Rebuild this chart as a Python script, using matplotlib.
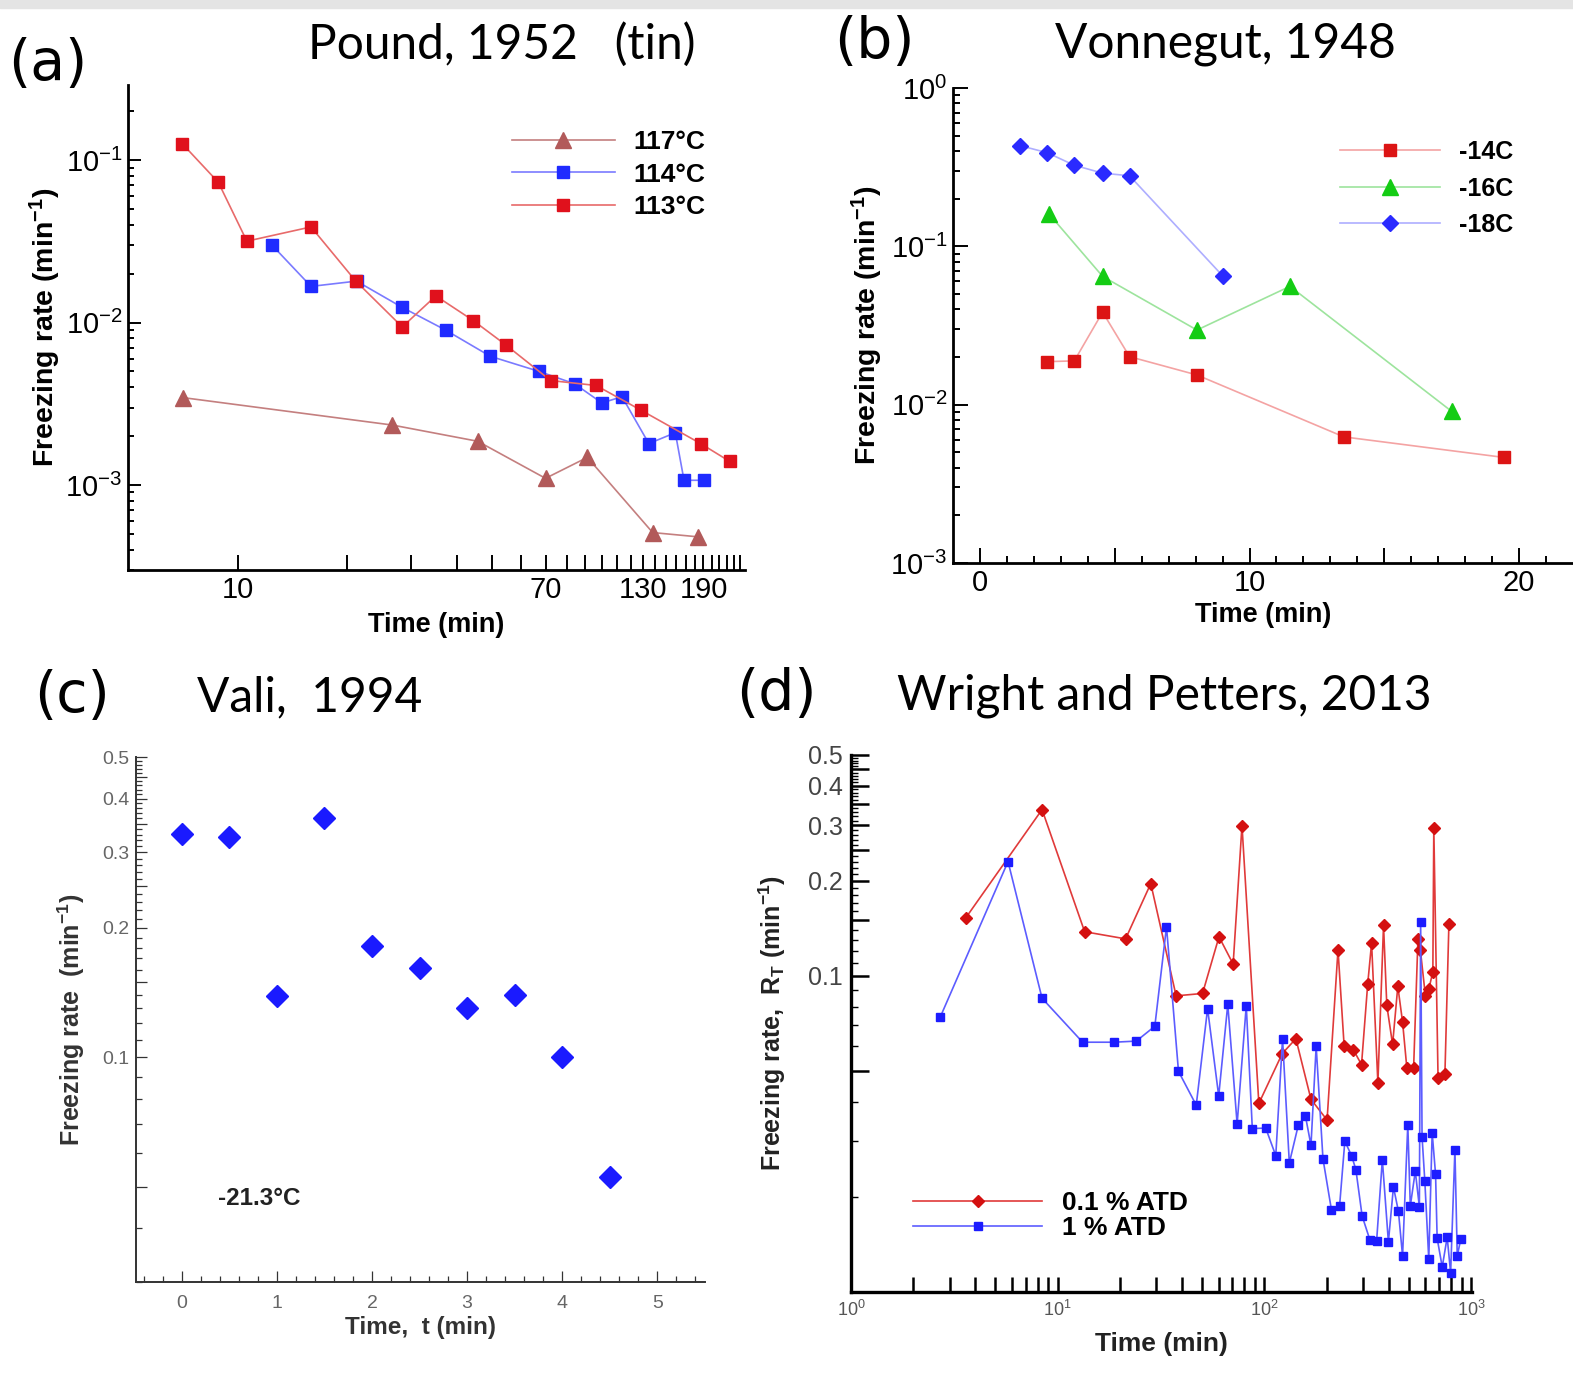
import numpy as np
import matplotlib
matplotlib.use("Agg")
import matplotlib.pyplot as plt
from matplotlib.ticker import FixedLocator, NullFormatter, NullLocator

# ---- (a) Pound 1952, tin ----
a_t113 = [7.05, 8.85, 10.6, 15.9, 21.1, 28.3, 35.0, 44.3, 54.4, 72.3, 96.4, 127.6, 186.6, 224]
a_r113 = [0.126, 0.073, 0.0317, 0.0388, 0.018, 0.0094, 0.0146, 0.0103, 0.0073, 0.0044, 0.0041, 0.0029, 0.0018, 0.0014]
a_t114 = [12.4, 15.9, 21.2, 28.3, 37.2, 49.4, 67.3, 84.1, 100, 113.5, 134.5, 159, 168, 190.5]
a_r114 = [0.0301, 0.0167, 0.018, 0.0124, 0.0090, 0.0062, 0.0050, 0.0042, 0.0032, 0.0035, 0.0018, 0.0021, 0.00107, 0.00107]
a_t117 = [7.1, 26.6, 45.6, 70, 91.2, 137.8, 183.6]
a_r117 = [0.00345, 0.00234, 0.00186, 0.0011, 0.00148, 0.00051, 0.00048]
a_xlabels = [10, 70, 130, 190]

# ---- (b) Vonnegut 1948 ----
b_t14 = [2.5, 3.5, 4.55, 5.55, 8.05, 13.5, 19.45]
b_r14 = [0.0187, 0.0189, 0.0384, 0.0201, 0.0154, 0.00626, 0.00464]
b_t16 = [2.55, 4.55, 8.05, 11.5, 17.5]
b_r16 = [0.161, 0.0646, 0.0296, 0.0559, 0.00907]
b_t18 = [1.5, 2.5, 3.5, 4.55, 5.55, 9.0]
b_r18 = [0.432, 0.39, 0.325, 0.290, 0.279, 0.0652]

# ---- (c) Vali 1994 ----
c_t = [0, 0.5, 1, 1.5, 2, 2.5, 3, 3.5, 4, 4.5]
c_r = [0.331, 0.326, 0.139, 0.360, 0.182, 0.161, 0.130, 0.140, 0.100, 0.0527]

# ---- (d) Wright and Petters 2013 ----
d_t01 = [3.6, 8.4, 13.5, 21.3, 28.2, 37.4, 50.2, 60.3, 70.6, 77.9, 94, 122, 142, 168, 201,
         227, 243, 269, 295, 316, 330, 354, 377, 391, 417, 442, 466, 489, 527, 553, 568,
         601, 624, 653, 660, 692, 747, 781]
d_r01 = [0.153, 0.336, 0.138, 0.131, 0.196, 0.0865, 0.088, 0.133, 0.109, 0.299, 0.0395, 0.0568,
         0.0633, 0.0407, 0.035, 0.121, 0.0602, 0.0585, 0.0524, 0.0942, 0.127, 0.0459, 0.1445,
         0.0807, 0.0607, 0.0927, 0.0715, 0.051, 0.051, 0.1305, 0.121, 0.0865, 0.0908, 0.103,
         0.294, 0.0474, 0.049, 0.1465]
d_t1 = [2.7, 5.75, 8.4, 13.2, 18.7, 24, 29.5, 33.6, 38.4, 46.8, 53.1, 60.1, 66.5, 73.8, 81.7,
        87.4, 101.5, 113.5, 122.4, 132, 146, 158, 168, 178, 192, 211, 231, 245, 264, 277, 297,
        324, 349, 372, 398, 421, 445, 466, 494, 508, 537, 562, 570, 579, 597, 624, 648, 673,
        685, 725, 766, 796, 835, 857, 891]
d_r1 = [0.074, 0.230, 0.085, 0.0617, 0.0617, 0.0622, 0.0693, 0.143, 0.0499, 0.039, 0.0788,
        0.0417, 0.0813, 0.034, 0.0805, 0.0329, 0.033, 0.027, 0.0632, 0.0256, 0.0338, 0.036,
        0.0291, 0.0599, 0.0264, 0.0182, 0.0187, 0.030, 0.027, 0.0244, 0.0174, 0.0146, 0.0145,
        0.0262, 0.0144, 0.0215, 0.018, 0.013, 0.0338, 0.0187, 0.0241, 0.0186, 0.148, 0.031,
        0.0225, 0.0127, 0.0319, 0.0236, 0.0148, 0.012, 0.0149, 0.0115, 0.0282, 0.013, 0.0147]

W, H = 1573, 1383
SANS = ["Liberation Sans", "DejaVu Sans"]
TITLE = ["Lato", "DejaVu Sans"]
plt.rcParams["mathtext.default"] = "regular"
plt.rcParams["axes.unicode_minus"] = False
plt.rcParams["font.family"] = SANS

fig = plt.figure(figsize=(W / 100, H / 100), dpi=100)
fig.patches.append(plt.Rectangle((0, 1 - 8 / H), 1, 8 / H, transform=fig.transFigure,
                                 color="#e4e4e4", zorder=0))


def px_axes(left, top, right, bottom):
    ax = fig.add_axes([left / W, 1 - bottom / H, (right - left) / W, (bottom - top) / H])
    ax.spines["top"].set_visible(False)
    ax.spines["right"].set_visible(False)
    ax.patch.set_alpha(0)
    return ax


def fig_text(x, y, s, size, family=TITLE, **kw):
    fig.text(x / W, 1 - y / H, s, fontsize=size, family=family, va="center", **kw)


# ---------------- panel (a) ----------------
ax = px_axes(128, 85, 745, 570)
ax.set_xscale("log")
ax.set_yscale("log")
ax.plot(a_t117, a_r117, "-^", color="#c47f7f", mfc="#b25a5a", mec="#b25a5a", ms=11, lw=1.2, label="117°C")
ax.plot(a_t114, a_r114, "-s", color="#7a7aff", mfc="#1f2bff", mec="#1f2bff", ms=9, lw=1.2, label="114°C")
ax.plot(a_t113, a_r113, "-s", color="#e86a6a", mfc="#e0111c", mec="#e0111c", ms=9, lw=1.2, label="113°C")
ax.set_xlim(5, 247)
ax.set_ylim(3e-4, 0.29)
a_ticks = np.arange(10, 241, 10)
ax.xaxis.set_minor_locator(NullLocator())
ax.set_xticks(a_ticks)
ax.set_xticklabels([str(v) if v in a_xlabels else "" for v in a_ticks])
ax.set_yticks([1e-3, 1e-2, 1e-1])
ax.set_yticklabels([r"$10^{-3}$", r"$10^{-2}$", r"$10^{-1}$"])
ax.tick_params(which="both", direction="in", width=1.4)
ax.tick_params(axis="x", which="major", length=11, labelsize=21, pad=4)
ax.tick_params(axis="y", which="major", length=9, labelsize=21, pad=4)
ax.tick_params(axis="y", which="minor", length=4)
for s in ("left", "bottom"):
    ax.spines[s].set_linewidth(2)
ax.set_xlabel("Time (min)", fontsize=19.5, fontweight="bold", labelpad=6)
ax.set_ylabel("Freezing rate (min$^{-1}$)", fontsize=20.5, fontweight="bold", labelpad=2)
h, l = ax.get_legend_handles_labels()
ax.legend(h, l, loc="upper left", bbox_to_anchor=(512 / W, 1 - 130 / H), bbox_transform=fig.transFigure,
          frameon=False, prop={"weight": "bold", "size": 19},
          handlelength=3.9, handletextpad=0.7, labelspacing=0.33, borderpad=0, borderaxespad=0)

# ---------------- panel (b) ----------------
ax = px_axes(953, 88, 1573, 563)
ax.set_yscale("log")
ax.plot(b_t14, b_r14, "-s", color="#f4a3a3", mfc="#dc1414", mec="#dc1414", ms=9, lw=1.2, label="-14C")
ax.plot(b_t16, b_r16, "-^", color="#9de49d", mfc="#14cc14", mec="#14cc14", ms=11, lw=1.2, label="-16C")
ax.plot(b_t18, b_r18, "-D", color="#aeaeff", mfc="#2a2aff", mec="#2a2aff", ms=8, lw=1.2, label="-18C")
ax.set_xlim(-1.0, 22.0)
ax.set_ylim(1e-3, 1)
ax.set_xticks([0, 5, 10, 15, 20])
ax.set_xticklabels(["0", "", "10", "", "20"])
ax.xaxis.set_minor_locator(FixedLocator(np.arange(0, 22, 1)))
ax.set_yticks([1e-3, 1e-2, 1e-1, 1])
ax.set_yticklabels([r"$10^{-3}$", r"$10^{-2}$", r"$10^{-1}$", r"$10^{0}$"])
ax.yaxis.set_minor_formatter(NullFormatter())
ax.tick_params(which="both", direction="in", width=1.4)
ax.tick_params(which="major", length=11, labelsize=21, pad=4)
ax.tick_params(which="minor", length=5)
for s in ("left", "bottom"):
    ax.spines[s].set_linewidth(2)
ax.set_xlabel("Time (min)", fontsize=19.5, fontweight="bold", labelpad=4)
ax.set_ylabel("Freezing rate (min$^{-1}$)", fontsize=20.5, fontweight="bold", labelpad=4)
h, l = ax.get_legend_handles_labels()
ax.legend(h, l, loc="upper left", bbox_to_anchor=(1340 / W, 1 - 140 / H), bbox_transform=fig.transFigure,
          frameon=False, prop={"weight": "bold", "size": 18},
          handlelength=4.0, handletextpad=0.75, labelspacing=0.5, borderpad=0, borderaxespad=0)

# ---------------- panel (c) ----------------
ax = px_axes(136, 757, 705, 1282)
ax.set_yscale("log")
ax.plot(c_t, c_r, "D", color="#1a1aff", ms=11, ls="none")
ax.set_xlim(-0.48, 5.5)
ax.set_ylim(0.03, 0.5)
ax.set_xticks(np.arange(0, 6))
ax.xaxis.set_minor_locator(FixedLocator(np.arange(-0.4, 5.5, 0.2)))
c_major = np.round(np.arange(0.05, 0.51, 0.05), 2)
ax.set_yticks(c_major)
ax.set_yticklabels([("%.1f" % v) if v in (0.1, 0.2, 0.3, 0.4, 0.5) else "" for v in c_major])
ax.yaxis.set_minor_locator(FixedLocator(np.round(np.arange(0.03, 0.5, 0.01), 2)))
ax.yaxis.set_minor_formatter(NullFormatter())
ax.tick_params(which="both", direction="in", width=0.9, colors="#333333", labelcolor="#666666")
ax.tick_params(which="major", length=8, labelsize=14, pad=5)
ax.tick_params(axis="x", which="major", pad=9)
ax.tick_params(which="minor", length=4)
for s in ("left", "bottom"):
    ax.spines[s].set_linewidth(1.4)
    ax.spines[s].set_color("#333333")
ax.set_xlabel("Time,  t (min)", fontsize=17.5, fontweight="bold", color="#333333", labelpad=3)
ax.set_ylabel("Freezing rate  (min$^{-1}$)", fontsize=18, fontweight="bold",
              color="#333333", labelpad=11)
ax.text(0.38, 0.047, "-21.3°C", fontsize=17.5, fontweight="bold", color="#222222", va="center")

# ---------------- panel (d) ----------------
ax = px_axes(851, 755, 1472, 1292)
ax.set_xscale("log")
ax.set_yscale("log")
ax.plot(d_t01, d_r01, "-D", color="#e03a3a", mfc="#d41010", mec="#d41010", ms=6, lw=1.2, label="0.1 % ATD")
ax.plot(d_t1, d_r1, "-s", color="#5c5cff", mfc="#1c1cff", mec="#1c1cff", ms=6, lw=1.2, label="1 % ATD")
ax.set_xlim(1, 1010)
ax.set_ylim(0.01, 0.5)
ax.set_xticks([1, 10, 100, 1000])
ax.set_xticklabels([r"$10^{0}$", r"$10^{1}$", r"$10^{2}$", r"$10^{3}$"])
d_minor_x = [m * 10 ** e for e in range(3) for m in range(2, 10)]
ax.xaxis.set_minor_locator(FixedLocator(d_minor_x))
ax.xaxis.set_minor_formatter(NullFormatter())
d_major = np.round(np.arange(0.05, 0.51, 0.05), 2)
ax.set_yticks(d_major)
ax.set_yticklabels([("%.1f" % v) if v in (0.1, 0.2, 0.3, 0.4, 0.5) else "" for v in d_major])
d_minor_y = [0.02, 0.03, 0.04, 0.06, 0.07, 0.08, 0.09] + list(np.round(np.arange(0.11, 0.5, 0.01), 2))
ax.yaxis.set_minor_locator(FixedLocator(d_minor_y))
ax.yaxis.set_minor_formatter(NullFormatter())
ax.tick_params(which="both", direction="in", width=1.8)
ax.tick_params(axis="x", which="both", length=11, labelsize=13, labelcolor="#555555", pad=6)
ax.tick_params(axis="y", which="major", length=13, labelsize=18, labelcolor="#444444", pad=6)
ax.tick_params(axis="y", which="minor", length=5, width=1.0)
for s in ("left", "bottom"):
    ax.spines[s].set_linewidth(2.4)
ax.set_xlabel("Time (min)", fontsize=19, fontweight="bold", color="#222222", labelpad=8)
ax.set_ylabel(r"Freezing rate,  R$_T$ (min$^{-1}$)", fontsize=18, fontweight="bold",
              color="#222222", labelpad=14)
h, l = ax.get_legend_handles_labels()
ax.legend(h, l, loc="upper left", bbox_to_anchor=(913 / W, 1 - 1191 / H), bbox_transform=fig.transFigure,
          frameon=False, prop={"weight": "bold", "size": 19},
          handlelength=4.9, handletextpad=0.75, labelspacing=0.05, borderpad=0, borderaxespad=0)

# ---------------- panel letters and titles ----------------
fig_text(8, 64, "(a)", 41, family=["DejaVu Sans"])
fig_text(834, 42, "(b)", 41, family=["DejaVu Sans"])
fig_text(34, 697, "(c)", 41, family=["DejaVu Sans"])
fig_text(736, 694, "(d)", 41, family=["DejaVu Sans"])
fig_text(308, 44, "Pound, 1952   (tin)", 34.5)
fig_text(1055, 44, "Vonnegut, 1948", 34.5)
fig_text(197, 697, "Vali,  1994", 34.5)
fig_text(897, 696, "Wright and Petters, 2013", 34.5)

fig.savefig("out.png", dpi=100)
